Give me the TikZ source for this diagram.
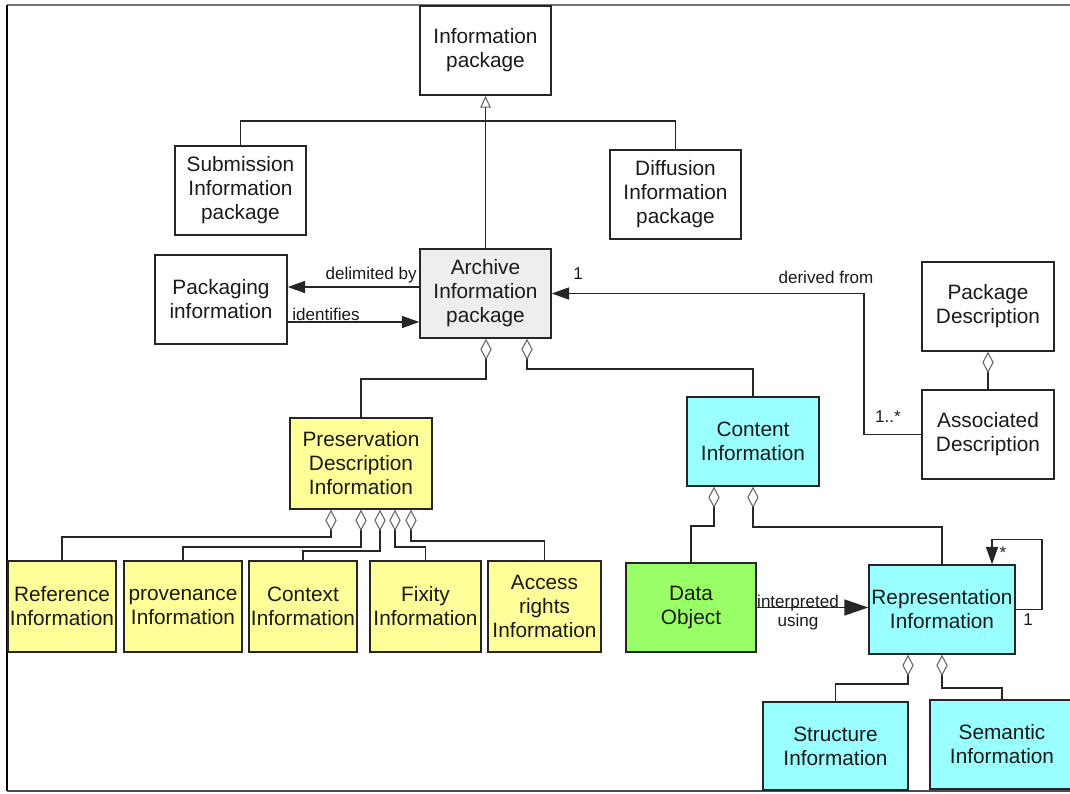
\documentclass[tikz,border=0pt]{standalone}
\usepackage{fontspec}
\setmainfont{Liberation Sans}
\usetikzlibrary{arrows.meta,calc}
\definecolor{infoyellow}{HTML}{FFFF99}
\definecolor{infocyan}{HTML}{99FFFF}
\definecolor{datagreen}{HTML}{99FF66}
\definecolor{aipgray}{HTML}{EEEEEE}
\definecolor{textgray}{HTML}{1A1A1A}
\tikzset{
  box/.style={draw=black!85, line width=1.1pt, minimum height=66.75pt, align=center,
    inner sep=1pt, text=textgray, font=\fontsize{15.6}{18}\selectfont},
  lbl/.style={inner sep=0pt, text=textgray, font=\fontsize{12.8}{14}\selectfont},
  link/.style={line width=1.2pt, draw=black!85},
  agg/.style={link, {Diamond[open,length=16pt,width=8.5pt,line width=0.8pt,color=black!60]}-},
  arr/.style={link, -{Triangle[length=13pt,width=9pt]}},
  bigarr/.style={link, -{Triangle[length=18pt,width=12pt]}},
  gen/.style={link, -{Triangle[open,length=9pt,width=8pt,line width=0.8pt,color=black!60]}}
}
\begin{document}
\begin{tikzpicture}[x=0.75pt,y=-0.75pt]
\useasboundingbox (0,0) rectangle (1070,793);
\draw[line width=1.5pt, black!55] (7,5) -- (1070,5);
\draw[line width=1.1pt, black] (7,5) -- (7,791);
\draw[line width=1.5pt, black!70] (7,791) -- (1070,791);

\node[box, minimum width=98.25pt] (ip) at (485.5,50.5) {Information\\package};
\node[box, minimum width=98.25pt] (sip) at (240.5,190.5) {Submission\\Information\\package};
\node[box, minimum width=98.25pt] (dip) at (675.5,194.5) {Diffusion\\Information\\package};
\node[box, minimum width=98.25pt, fill=aipgray] (aip) at (485.5,293.5) {Archive\\Information\\package};
\node[box, minimum width=99pt] (pack) at (221,299.5) {Packaging\\information};
\node[box, minimum width=99pt] (pd) at (988,306.5) {Package\\Description};
\node[box, minimum width=99pt] (ad) at (988,434.5) {Associated\\Description};
\node[box, minimum width=99pt, fill=infocyan] (ci) at (753,441.5) {Content\\Information};
\node[box, minimum width=106.5pt, minimum height=68.25pt, fill=infoyellow] (pdi) at (361,463.5) {Preservation\\Description\\Information};

\node[box, minimum width=81pt, minimum height=68.25pt, fill=infoyellow] (ref) at (62,606.5) {Reference\\Information};
\node[box, minimum width=88.5pt, minimum height=68.25pt, fill=infoyellow] (prov) at (183,606.5) {provenance\\Information};
\node[box, minimum width=81pt, minimum height=68.25pt, fill=infoyellow] (ctx) at (303,606.5) {Context\\Information};
\node[box, minimum width=83.25pt, minimum height=68.25pt, fill=infoyellow] (fix) at (425.5,606.5) {Fixity\\Information};
\node[box, minimum width=84.75pt, minimum height=68.25pt, fill=infoyellow] (acc) at (544.5,606.5) {Access\\rights\\Information};

\node[box, minimum width=97.5pt, fill=datagreen] (do) at (691,607.5) {Data\\Object};
\node[box, minimum width=109.5pt, fill=infocyan] (ri) at (942,609.5) {Representation\\Information};
\node[box, minimum width=108.75pt, minimum height=66pt, fill=infocyan] (si) at (835.5,746) {Structure\\Information};
\node[box, minimum width=108pt, fill=infocyan] (sem) at (1002,744.5) {Semantic\\Information};

\draw[gen] (aip.north) -- (ip.south);
\draw[link] (sip.north) |- ($(ip.south)+(0,25)$) -| (dip.north);

\draw[arr] (aip.west |- 0,287) -- (pack.east |- 0,287);
\draw[arr] (pack.east |- 0,322) -- (aip.west |- 0,322);
\node[lbl, anchor=east] (delim) at (417,275) {delimited by};
\node[lbl, anchor=west] (ident) at (292,314) {identifies};

\draw[arr] (ad.west) -- ++(-57,0) |- (aip.east);
\node[lbl] (derived) at (826,277) {derived from};
\node[lbl] (one) at (578,274) {1};
\node[lbl] (many) at (888,417) {1..*};

\draw[agg] (pd.south) -- (ad.north);

\draw[agg] ($(aip.south)+(0.5,0)$) -- ++(0,40) -| (pdi.north);
\draw[agg] ($(aip.south)+(41.5,0)$) -- ++(0,30) -| (ci.north);

\foreach \dx/\dy/\part in {-30/27/ref, 0/37/prov, 19/41/ctx, 34/37/fix, 50/31/acc}
  \draw[agg] ($(pdi.south)+(\dx,0)$) -- ++(0,\dy) -| (\part.north);

\draw[agg] ($(ci.south)+(-39,0)$) -- ++(0,39) -| (do.north);
\draw[agg] (ci.south) -- ++(0,40) -| (ri.north);

\draw[bigarr] (do.east) -- (do.east -| ri.west);
\node[lbl] (interp) at (798,603) {interpreted};
\node[lbl] (using) at (798,622) {using};

\draw[arr] (ri.east) -| ++(26,-70) -| ($(ri.north)+(50,0)$);
\node[lbl] (star) at (1003,553) {*};
\node[lbl] (onebis) at (1028,620) {1};

\draw[agg] ($(ri.south)+(-34,0)$) -- ++(0,29) -| (si.north);
\draw[agg] (ri.south) -- ++(0,33) -| (sem.north);
\end{tikzpicture}
\end{document}
